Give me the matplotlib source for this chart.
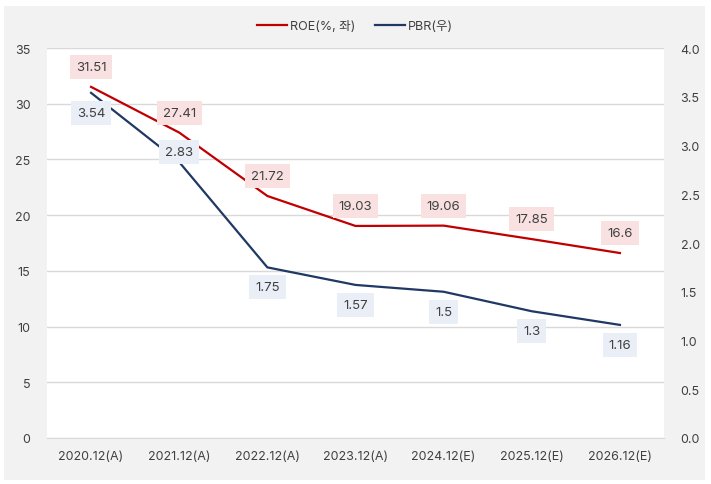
import matplotlib
matplotlib.use("Agg")
import matplotlib.pyplot as plt
from matplotlib.patches import Rectangle
import numpy as np

plt.rcParams['font.family'] = ['Inter', 'Noto Sans CJK KR', 'DejaVu Sans']

periods = ['2020.12(A)', '2021.12(A)', '2022.12(A)', '2023.12(A)',
           '2024.12(E)', '2025.12(E)', '2026.12(E)']
roe = [31.51, 27.41, 21.72, 19.03, 19.06, 17.85, 16.6]
pbr = [3.54, 2.83, 1.75, 1.57, 1.5, 1.3, 1.16]
roe_text = ['31.51', '27.41', '21.72', '19.03', '19.06', '17.85', '16.6']
pbr_text = ['3.54', '2.83', '1.75', '1.57', '1.5', '1.3', '1.16']

red = '#C00000'
navy = '#1F3864'
txt = '#404040'

fig = plt.figure(figsize=(7.11, 4.85), dpi=100)
fig.patches.append(Rectangle((4 / 711, 4 / 485), 701 / 711, 474 / 485,
                             transform=fig.transFigure, facecolor='#F2F2F2',
                             edgecolor='none', zorder=-10))

ax = fig.add_axes([47 / 711, 46 / 485, 617 / 711, 390 / 485])
ax.set_facecolor('white')
ax2 = ax.twinx()

x = np.arange(len(periods))
l1, = ax.plot(x, roe, color=red, lw=1.6, label='ROE(%, 좌)')
l2, = ax2.plot(x, pbr, color=navy, lw=1.6, label='PBR(우)')

ax.set_ylim(0, 35)
ax.set_yticks(range(0, 36, 5))
ax2.set_ylim(0, 4)
ax2.set_yticks(np.arange(0, 4.01, 0.5))
ax2.set_yticklabels([f'{v:.1f}' for v in np.arange(0, 4.01, 0.5)])
ax.set_xlim(-0.5, len(periods) - 0.5)
ax.set_xticks(x)
ax.set_xticklabels(periods)

ax.grid(axis='y', color='#D9D9D9', lw=1)
ax.set_axisbelow(True)
for a in (ax, ax2):
    for s in a.spines.values():
        s.set_visible(False)
    a.tick_params(length=0, labelsize=9, colors=txt)
ax.spines['bottom'].set_visible(True)
ax.spines['bottom'].set_color('#D9D9D9')
ax.tick_params(axis='y', pad=12)
ax2.tick_params(axis='y', pad=12)
ax.tick_params(axis='x', pad=9)

# 2.83 라벨은 원본에서 선 위쪽으로 살짝 올라가 있음
pbr_offset = [-20, 10, -20, -20, -20, -20, -20]

for i in range(len(periods)):
    ax.annotate(roe_text[i], (x[i], roe[i]), xytext=(0, 20), textcoords='offset pixels',
                ha='center', va='center', fontsize=9.5, color=txt,
                bbox=dict(boxstyle='square,pad=0.45', fc='#F9E1E2', ec='none'))
    ax2.annotate(pbr_text[i], (x[i], pbr[i]), xytext=(0, pbr_offset[i]), textcoords='offset pixels',
                 ha='center', va='center', fontsize=9.5, color=txt,
                 bbox=dict(boxstyle='square,pad=0.45', fc='#E9EEF7', ec='none'))

fig.legend(handles=[l1, l2], loc='center', bbox_to_anchor=(355 / 711, 1 - 27 / 485),
           ncol=2, frameon=False, fontsize=9, handlelength=2.4, columnspacing=1.5,
           handletextpad=0.3, labelcolor=txt)

fig.savefig('out.png', dpi=100, facecolor='white')
